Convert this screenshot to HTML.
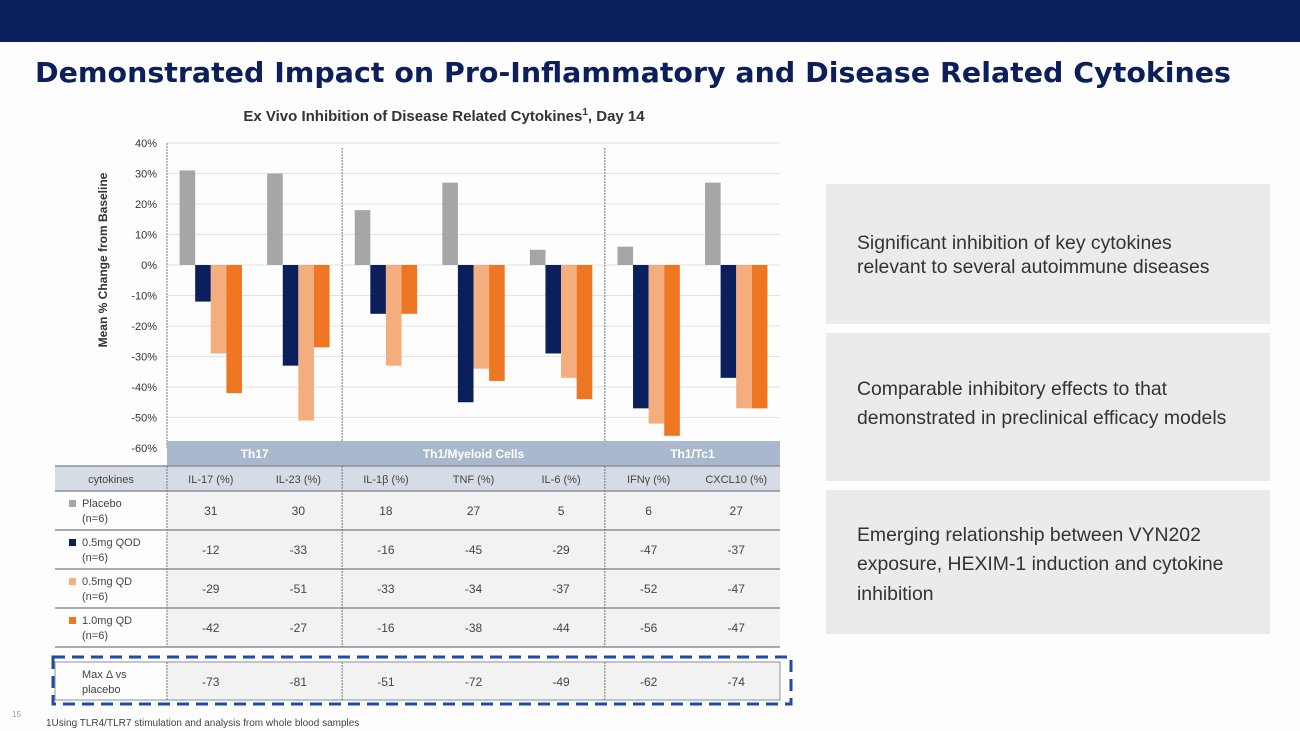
<!DOCTYPE html>
<html><head><meta charset="utf-8"><style>
html,body{margin:0;padding:0;background:#fdfdfd;}
svg{display:block;font-family:"Liberation Sans",Arial,sans-serif;}
</style></head><body>
<svg id="page" width="1300" height="731" viewBox="0 0 1300 731">
<rect x="0" y="0" width="1300" height="42" fill="#0a1f5b"/>
<text x="35" y="82" font-family="DejaVu Sans,Verdana,sans-serif" font-weight="bold" font-size="28" fill="#0c1f5a" textLength="1196" lengthAdjust="spacingAndGlyphs">Demonstrated Impact on Pro-Inflammatory and Disease Related Cytokines</text>
<text x="444" y="121" text-anchor="middle" font-weight="bold" font-size="15" fill="#333">Ex Vivo Inhibition of Disease Related Cytokines<tspan font-size="10" dy="-6">1</tspan><tspan dy="6">, Day 14</tspan></text>
<text transform="translate(107,260) rotate(-90)" text-anchor="middle" font-weight="bold" font-size="12" fill="#333">Mean % Change from Baseline</text>
<g id="grid"></g><g id="bars"></g><g id="table"></g>
<g>
<rect x="826" y="184" width="444" height="140" fill="#ebebeb"/>
<rect x="826" y="333" width="444" height="148" fill="#ebebeb"/>
<rect x="826" y="490" width="444" height="144" fill="#ebebeb"/>
<text font-size="19.4" fill="#333"><tspan x="857" y="249">Significant inhibition of key cytokines</tspan><tspan x="857" y="273">relevant to several autoimmune diseases</tspan></text>
<text font-size="19.4" fill="#333"><tspan x="857" y="395">Comparable inhibitory effects to that</tspan><tspan x="857" y="424">demonstrated in preclinical efficacy models</tspan></text>
<text font-size="19.4" fill="#333"><tspan x="857" y="541">Emerging relationship between VYN202</tspan><tspan x="857" y="570">exposure, HEXIM-1 induction and cytokine</tspan><tspan x="857" y="600">inhibition</tspan></text>
</g>
<text x="12" y="717" font-size="8" fill="#999">15</text>
<text x="46" y="726" font-size="10" fill="#444">1Using TLR4/TLR7 stimulation and analysis from whole blood samples</text>
</svg>
<script>
const categories=["IL-17 (%)","IL-23 (%)","IL-1β (%)","TNF (%)","IL-6 (%)","IFNγ (%)","CXCL10 (%)"];
const seriesNames=["Placebo (n=6)","0.5mg QOD (n=6)","0.5mg QD (n=6)","1.0mg QD (n=6)"];
const placebo=[31,30,18,27,5,6,27];
const qod05=[-12,-33,-16,-45,-29,-47,-37];
const qd05=[-29,-51,-33,-34,-37,-52,-47];
const qd10=[-42,-27,-16,-38,-44,-56,-47];
const maxDelta=[-73,-81,-51,-72,-49,-62,-74];
const yTicks=[40,30,20,10,0,-10,-20,-30,-40,-50,-60];
const groups=[{name:"Th17",n:2},{name:"Th1/Myeloid Cells",n:3},{name:"Th1/Tc1",n:2}];
const colors=["#a6a6a6","#0a1f5b","#f4ad7c","#ee7623"];
const NS="http://www.w3.org/2000/svg";
const X0=167,X1=780,Y0=143,Y1=448,YMAX=40,YMIN=-60;
const cw=(X1-X0)/categories.length;
const y=v=>Y0+(YMAX-v)/(YMAX-YMIN)*(Y1-Y0);
const xc=i=>X0+i*cw;
function mk(tag,attrs,parent,txt){const e=document.createElementNS(NS,tag);for(const k in attrs)e.setAttribute(k,attrs[k]);if(txt!==undefined)e.textContent=txt;parent.appendChild(e);return e;}
const grid=document.getElementById('grid'),bars=document.getElementById('bars'),tbl=document.getElementById('table');
yTicks.forEach(t=>{
 const l=mk('line',{x1:X0,x2:X1,y1:y(t),y2:y(t),stroke:'#e3e3e3','stroke-width':1},grid);
 
 
 const tx=mk('text',{x:X0-10,y:y(t)+4,'text-anchor':'end','font-size':11,fill:'#333'},grid,t+'%');
 
 
});
let acc=0;
const sepXs=[X0];
groups.forEach(g=>{acc+=g.n;sepXs.push(xc(acc));});
sepXs.forEach((sx,i)=>{if(i===sepXs.length-1)return;
 const l=mk('line',{x1:sx,x2:sx,y1:i===0?143:148,y2:y(YMIN),stroke:'#777','stroke-width':1,'stroke-dasharray':'2,1'},grid);
 
 
});
const series=[placebo,qod05,qd05,qd10];
const bw=15.6,pad=(cw-4*bw)/2;
series.forEach((s,si)=>s.forEach((v,ci)=>{
 const bx=xc(ci)+pad+si*bw;
 const r=mk('rect',{x:bx,y:Math.min(y(v),y(0)),width:bw,height:Math.abs(y(v)-y(0)),fill:colors[si]},bars);
 
 
}));
const TL=55,hdrY=441,catY=466,rowH=39;
const gh=mk('rect',{x:X0,y:hdrY,width:X1-X0,height:25,fill:'#a9b8cc'},tbl);


acc=0;
groups.forEach(g=>{const a=xc(acc),b=xc(acc+g.n);acc+=g.n;
 const t=mk('text',{x:(a+b)/2,y:hdrY+17,'text-anchor':'middle','font-size':12,'font-weight':'bold',fill:'#fff'},tbl,g.name);
 
 
});
const ch=mk('rect',{x:TL,y:catY,width:X1-TL,height:25,fill:'#d6dce5'},tbl);


const c0=mk('text',{x:(TL+X0)/2,y:catY+17,'text-anchor':'middle','font-size':11,fill:'#444'},tbl,'cytokines');


categories.forEach((c,i)=>{const t=mk('text',{x:xc(i)+cw/2,y:catY+17,'text-anchor':'middle','font-size':11,fill:'#444'},tbl,c);
 
 });
mk('line',{x1:TL,x2:X1,y1:catY,y2:catY,stroke:'#8a9099','stroke-width':1.5},tbl);
const rowsData=[placebo,qod05,qd05,qd10];
rowsData.forEach((s,ri)=>{
 const ry=catY+25+ri*rowH;
 const bg=mk('rect',{x:X0,y:ry,width:X1-X0,height:rowH,fill:'#f2f2f2'},tbl);
 
 
 mk('line',{x1:TL,x2:X1,y1:ry,y2:ry,stroke:'#8a9099','stroke-width':1.5},tbl);
 const sw=mk('rect',{x:TL+14,y:ry+9,width:7,height:7,fill:colors[ri]},tbl);
 
 
 const parts=seriesNames[ri].split(' (');
 const lt=mk('text',{'font-size':11,fill:'#444'},tbl);
 
 
 mk('tspan',{x:TL+27,y:ry+16},lt,parts[0]);mk('tspan',{x:TL+27,y:ry+31},lt,'('+parts[1]);
 s.forEach((v,ci)=>{const t=mk('text',{x:xc(ci)+cw/2,y:ry+24,'text-anchor':'middle','font-size':12,fill:'#444'},tbl,v);
  
  });
});
const endY=catY+25+4*rowH;
mk('line',{x1:TL,x2:X1,y1:endY,y2:endY,stroke:'#8a9099','stroke-width':1.5},tbl);
const my=662;
const mb=mk('rect',{x:X0,y:my,width:X1-X0,height:38,fill:'#f2f2f2'},tbl);


mk('rect',{x:TL,y:my,width:X1-TL,height:38,fill:'none',stroke:'#8a9099','stroke-width':1},tbl);
const ml=mk('text',{'font-size':11,fill:'#444'},tbl);


mk('tspan',{x:TL+27,y:my+16},ml,'Max Δ vs');mk('tspan',{x:TL+27,y:my+31},ml,'placebo');
maxDelta.forEach((v,ci)=>{const t=mk('text',{x:xc(ci)+cw/2,y:my+24,'text-anchor':'middle','font-size':12,fill:'#444'},tbl,v);
 
 });
[X0,...sepXs.slice(1,-1)].forEach(sx=>{
 mk('line',{x1:sx,x2:sx,y1:catY,y2:endY,stroke:'#777','stroke-dasharray':'2,1'},tbl);
 mk('line',{x1:sx,x2:sx,y1:my,y2:my+38,stroke:'#777','stroke-dasharray':'2,1'},tbl);
});
const db=mk('rect',{x:53,y:657,width:738,height:47,fill:'none',stroke:'#1f4aa8','stroke-width':3,'stroke-dasharray':'12,7'},tbl);


</script>
</body></html>
